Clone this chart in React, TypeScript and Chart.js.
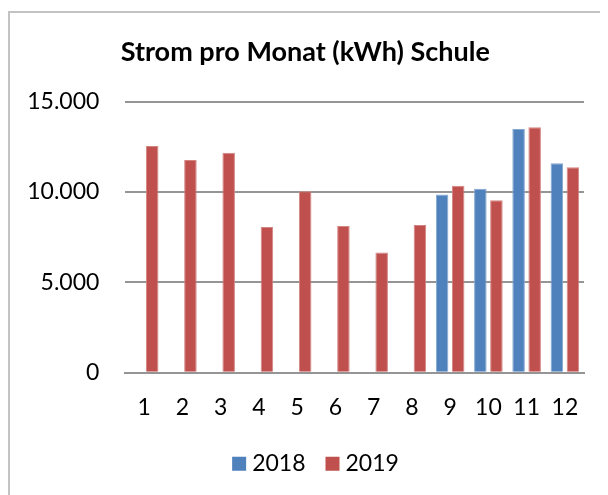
import React, { useEffect, useRef } from 'react';
import { Chart, registerables } from 'chart.js';

Chart.register(...registerables);

const title = 'Strom pro Monat (kWh) Schule';
const months = ['1', '2', '3', '4', '5', '6', '7', '8', '9', '10', '11', '12'];
const series2018Label = '2018';
const series2019Label = '2019';
const values2018: (number | null)[] = [null, null, null, null, null, null, null, null, 9870, 10180, 13490, 11600];
const values2019: (number | null)[] = [12550, 11770, 12170, 8060, 10050, 8120, 6660, 8170, 10350, 9540, 13580, 11370];
const yMin = 0;
const yMax = 15000;
const yStep = 5000;

const blue = '#4f81bd';
const blueEdge = '#84a7d1';
const red = '#c0504d';
const redEdge = '#d38582';
const gridColor = '#959595';
const fontFamily = 'Lato, "Liberation Sans", sans-serif';

function formatDe(v: number): string {
  const s = Math.round(v).toString();
  return s.replace(/\B(?=(\d{3})+(?!\d))/g, '.');
}

const legendShift = {
  id: 'legendShift',
  afterLayout(chart: any) {
    const lg = chart.legend;
    if (lg) {
      lg.left += 13;
      lg.right += 13;
    }
  },
};

export default function App() {
  const ref = useRef<HTMLCanvasElement | null>(null);

  useEffect(() => {
    if (!ref.current) return;
    const chart = new Chart(ref.current, {
      type: 'bar',
      data: {
        labels: months,
        datasets: [
          {
            label: series2018Label,
            data: values2018,
            backgroundColor: blue,
            borderColor: blueEdge,
            borderWidth: 1,
            categoryPercentage: 0.84,
            barPercentage: 0.78,
          },
          {
            label: series2019Label,
            data: values2019,
            backgroundColor: red,
            borderColor: redEdge,
            borderWidth: 1,
            categoryPercentage: 0.84,
            barPercentage: 0.78,
          },
        ],
      },
      options: {
        responsive: false,
        animation: false,
        layout: { padding: { left: 16.5, right: 32, top: 0, bottom: 9.7 } },
        plugins: {
          title: {
            display: true,
            text: title,
            color: '#000',
            font: { family: fontFamily, size: 27, weight: 'bold' },
            padding: { top: 22.6, bottom: 33.7 },
          },
          legend: {
            display: true,
            position: 'bottom',
            labels: {
              color: '#000',
              font: { family: fontFamily, size: 23 },
              usePointStyle: true,
              pointStyle: 'rect',
              boxWidth: 3,
              boxHeight: 14,
              padding: 25.5,
              generateLabels: (chart: any) =>
                Chart.defaults.plugins.legend.labels.generateLabels(chart).map((item: any) => ({
                  ...item,
                  lineWidth: 0,
                })),
            },
          },
          tooltip: { enabled: false },
        },
        scales: {
          x: {
            grid: { display: false, drawTicks: false },
            border: { display: true, color: gridColor, width: 2 },
            ticks: {
              color: '#000',
              font: { family: fontFamily, size: 23 },
              padding: 21.5,
              maxRotation: 0,
              autoSkip: false,
            },
            afterFit(scale: any) {
              scale.height -= 16.5;
            },
          },
          y: {
            min: yMin,
            max: yMax,
            grid: { color: gridColor, lineWidth: 2, drawTicks: false },
            border: { display: false },
            ticks: {
              stepSize: yStep,
              color: '#000',
              font: { family: fontFamily, size: 23 },
              padding: 25.7,
              callback: (v: any) => formatDe(Number(v)),
            },
            afterFit(scale: any) {
              scale.width -= 25;
            },
          },
        },
      },
      plugins: [legendShift],
    });
    return () => chart.destroy();
  }, []);

  return (
    <div style={{ width: 600, height: 487, overflow: 'hidden' }}>
      <div
        style={{
          marginTop: 3,
          width: 640,
          height: 500,
          borderLeft: '2px solid #c3c3c3',
          borderTop: '2px solid #c3c3c3',
          boxSizing: 'border-box',
        }}
      >
        <canvas ref={ref} width={606} height={482} style={{ display: 'block' }} />
      </div>
    </div>
  );
}
